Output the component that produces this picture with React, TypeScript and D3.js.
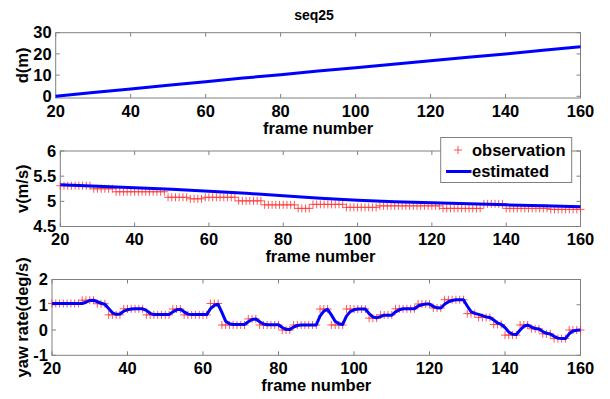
import * as d3 from "d3";
import { useEffect, useRef } from "react";

// frames shown on every panel
const frames = d3.range(20, 161);
const xTicks = [20, 40, 60, 80, 100, 120, 140, 160];

// d(m), read every 10 frames
const distFrames = [20, 30, 40, 50, 60, 70, 80, 90, 100, 110, 120, 130, 140, 150, 160];
const distValues = [0, 1.75, 3.5, 5.2, 6.9, 8.6, 10.2, 11.9, 13.5, 15.1, 16.8, 18.4, 20.0, 21.7, 23.4];
const distTicks = [0, 10, 20, 30];

// v(m/s)
const speedEst = [5.33, 5.3, 5.27, 5.24, 5.2, 5.16, 5.11, 5.06, 5.02, 4.99, 4.97, 4.95, 4.93, 4.91, 4.89];
const speedObs = [
  5.31, 5.31, 5.31, 5.31, 5.31, 5.31, 5.31, 5.31, 5.31, 5.25,
  5.25, 5.25, 5.25, 5.25, 5.25, 5.19, 5.19, 5.19, 5.19, 5.19,
  5.19, 5.19, 5.19, 5.19, 5.19, 5.19, 5.19, 5.19, 5.19, 5.08,
  5.08, 5.08, 5.08, 5.08, 5.08, 5.05, 5.05, 5.05, 5.05, 5.08,
  5.08, 5.08, 5.08, 5.08, 5.08, 5.08, 5.08, 5.08, 5.01, 5.01,
  5.01, 5.01, 5.01, 5.01, 5.01, 4.93, 4.93, 4.93, 4.93, 4.93,
  4.93, 4.93, 4.93, 4.93, 4.86, 4.86, 4.86, 4.86, 4.94, 4.94,
  4.94, 4.94, 4.94, 4.94, 4.94, 4.94, 4.94, 4.88, 4.88, 4.88,
  4.88, 4.88, 4.88, 4.88, 4.88, 4.88, 4.91, 4.91, 4.91, 4.91,
  4.91, 4.91, 4.91, 4.91, 4.91, 4.91, 4.91, 4.91, 4.91, 4.91,
  4.91, 4.91, 4.91, 4.86, 4.86, 4.86, 4.86, 4.86, 4.86, 4.86,
  4.86, 4.86, 4.86, 4.86, 4.95, 4.95, 4.95, 4.95, 4.95, 4.95,
  4.86, 4.86, 4.86, 4.86, 4.86, 4.86, 4.86, 4.86, 4.86, 4.86,
  4.86, 4.86, 4.84, 4.84, 4.84, 4.84, 4.84, 4.84, 4.84, 4.84,
  4.84,
];
const speedTicks = [4.5, 5, 5.5, 6];

// yaw rate(deg/s)
const yawObs = [
  1.05, 1.05, 1.05, 1.05, 1.05, 1.05, 1.05, 1.05, 1.18, 1.18,
  1.18, 1.18, 1.04, 1.04, 1.04, 0.6, 0.6, 0.6, 0.6, 0.84,
  0.84, 0.84, 0.84, 0.84, 0.84, 0.6, 0.6, 0.6, 0.6, 0.6,
  0.6, 0.6, 0.83, 0.83, 0.83, 0.6, 0.6, 0.6, 0.6, 0.6,
  0.6, 0.6, 1.05, 1.05, 1.05, 0.2, 0.2, 0.2, 0.2, 0.2,
  0.2, 0.2, 0.44, 0.44, 0.44, 0.2, 0.2, 0.2, 0.2, 0.2,
  0.2, 0.0, 0.0, 0.0, 0.2, 0.2, 0.2, 0.2, 0.2, 0.2,
  0.2, 0.83, 0.83, 0.83, 0.2, 0.2, 0.2, 0.2, 0.83, 0.83,
  0.83, 0.83, 0.83, 0.83, 0.47, 0.47, 0.47, 0.6, 0.6, 0.6,
  0.6, 0.84, 0.84, 0.84, 0.84, 0.84, 0.84, 1.03, 1.03, 1.03,
  1.03, 0.87, 0.87, 0.87, 1.2, 1.2, 1.2, 1.2, 1.2, 1.2,
  0.65, 0.65, 0.65, 0.5, 0.5, 0.5, 0.5, 0.22, 0.22, 0.22,
  -0.2, -0.2, -0.2, -0.2, 0.2, 0.2, 0.2, 0.05, 0.05, 0.05,
  -0.15, -0.15, -0.15, -0.34, -0.34, -0.34, -0.34, 0.0, 0.0, 0.0,
  0.0,
];
const yawEst = [
  1.05, 1.05, 1.05, 1.05, 1.05, 1.05, 1.05, 1.05, 1.05, 1.1,
  1.17, 1.18, 1.12, 1.06, 1.02, 0.85, 0.68, 0.62, 0.63, 0.75,
  0.8, 0.83, 0.84, 0.84, 0.84, 0.78, 0.66, 0.61, 0.61, 0.61,
  0.61, 0.61, 0.72, 0.8, 0.82, 0.72, 0.63, 0.61, 0.61, 0.61,
  0.61, 0.61, 0.85, 0.98, 1.02, 0.7, 0.35, 0.25, 0.22, 0.22,
  0.22, 0.22, 0.33, 0.42, 0.44, 0.33, 0.24, 0.21, 0.21, 0.21,
  0.21, 0.1, 0.03, 0.02, 0.12, 0.18, 0.2, 0.2, 0.2, 0.2,
  0.2, 0.55, 0.75, 0.82, 0.6, 0.35, 0.25, 0.22, 0.55, 0.73,
  0.8, 0.83, 0.83, 0.83, 0.65, 0.52, 0.48, 0.53, 0.59, 0.59,
  0.59, 0.72, 0.8, 0.84, 0.84, 0.84, 0.84, 0.95, 1.0, 1.03,
  1.03, 0.93, 0.88, 0.87, 1.02, 1.12, 1.17, 1.2, 1.2, 1.2,
  0.95, 0.73, 0.66, 0.62, 0.57, 0.52, 0.5, 0.4, 0.28, 0.22,
  0.1, -0.08, -0.17, -0.18, 0.0, 0.15, 0.2, 0.12, 0.06, 0.04,
  -0.06, -0.13, -0.16, -0.25, -0.32, -0.34, -0.34, -0.15, -0.04, -0.01,
  0.0,
];
const yawTicks = [-1, 0, 1, 2];

const FONT = "'Liberation Sans', Arial, sans-serif";
const BLUE = "#0000ff";
const RED = "#ff3838";
const AXIS = "#808080";

const App = () => {
  const ref = useRef(null);

  useEffect(() => {
    const svg = d3.select(ref.current);

    // one MATLAB-style subplot: box, inward ticks on all sides, labels
    const panel = (box, yDomain, yTicks, yLabel) => {
      const x = d3.scaleLinear().domain([20, 160]).range([box.left, box.right]);
      const y = d3.scaleLinear().domain(yDomain).range([box.bottom, box.top]);
      const g = svg.append("g");

      g.append("rect")
        .attr("x", box.left)
        .attr("y", box.top)
        .attr("width", box.right - box.left)
        .attr("height", box.bottom - box.top)
        .attr("fill", "#fff")
        .attr("stroke", AXIS);

      const tl = 4;
      xTicks.forEach((t) => {
        g.append("line").attr("x1", x(t)).attr("x2", x(t)).attr("y1", box.bottom).attr("y2", box.bottom - tl).attr("stroke", AXIS);
        g.append("line").attr("x1", x(t)).attr("x2", x(t)).attr("y1", box.top).attr("y2", box.top + tl).attr("stroke", AXIS);
        g.append("text")
          .attr("x", x(t))
          .attr("y", box.bottom + 13)
          .attr("dy", "0.35em")
          .attr("text-anchor", "middle")
          .text(t);
      });
      yTicks.forEach((t) => {
        g.append("line").attr("x1", box.left).attr("x2", box.left + tl).attr("y1", y(t)).attr("y2", y(t)).attr("stroke", AXIS);
        g.append("line").attr("x1", box.right).attr("x2", box.right - tl).attr("y1", y(t)).attr("y2", y(t)).attr("stroke", AXIS);
        g.append("text")
          .attr("x", box.left - 4)
          .attr("y", y(t))
          .attr("dy", "0.35em")
          .attr("text-anchor", "end")
          .text(t);
      });

      g.append("text")
        .attr("x", (box.left + box.right) / 2)
        .attr("y", box.bottom + 30)
        .attr("dy", "0.35em")
        .attr("text-anchor", "middle")
        .text("frame number");

      g.append("text")
        .attr("transform", `translate(22, ${(box.top + box.bottom) / 2}) rotate(-90)`)
        .attr("dy", "0.35em")
        .attr("text-anchor", "middle")
        .text(yLabel);

      return { g, x, y };
    };

    svg.style("font-family", FONT).style("font-weight", "bold").style("font-size", "16.5px");

    svg.append("text")
      .attr("x", 314)
      .attr("y", 15)
      .attr("dy", "0.35em")
      .attr("text-anchor", "middle")
      .style("font-size", "14px")
      .text("seq25");

    const lineOf = (x, y) => d3.line().x((d) => x(d[0])).y((d) => y(d[1]));

    const cross = (g, cx, cy, r) => {
      g.append("path")
        .attr("d", `M${cx - r},${cy}H${cx + r}M${cx},${cy - r}V${cy + r}`)
        .attr("stroke", RED)
        .attr("stroke-opacity", 0.85)
        .attr("stroke-width", 1)
        .attr("fill", "none");
    };

    // panel 1: distance
    const p1 = panel({ left: 55.7, right: 580.5, top: 32.7, bottom: 98 }, [-0.8, 30], distTicks, "d(m)");
    p1.g.append("path")
      .datum(d3.zip(distFrames, distValues))
      .attr("d", lineOf(p1.x, p1.y))
      .attr("fill", "none")
      .attr("stroke", BLUE)
      .attr("stroke-width", 3);

    // panel 2: speed
    const p2 = panel({ left: 60.3, right: 580.5, top: 151, bottom: 226.5 }, [4.5, 6], speedTicks, "v(m/s)");
    frames.forEach((f, i) => cross(p2.g, p2.x(f), p2.y(speedObs[i]), 4));
    p2.g.append("path")
      .datum(d3.zip(distFrames, speedEst))
      .attr("d", lineOf(p2.x, p2.y))
      .attr("fill", "none")
      .attr("stroke", BLUE)
      .attr("stroke-width", 3);

    // legend
    const lg = p2.g.append("g");
    lg.append("rect")
      .attr("x", 440.7)
      .attr("y", 137.5)
      .attr("width", 131)
      .attr("height", 45)
      .attr("fill", "#fff")
      .attr("stroke", AXIS);
    cross(lg, 458, 150, 4);
    lg.append("text").attr("x", 472).attr("y", 150).attr("dy", "0.35em").text("observation");
    lg.append("line")
      .attr("x1", 446)
      .attr("x2", 471.5)
      .attr("y1", 171.5)
      .attr("y2", 171.5)
      .attr("stroke", BLUE)
      .attr("stroke-width", 3);
    lg.append("text").attr("x", 472).attr("y", 171.5).attr("dy", "0.35em").text("estimated");

    // panel 3: yaw rate
    const p3 = panel({ left: 52, right: 580.5, top: 279.5, bottom: 355.3 }, [-1, 2], yawTicks, "yaw rate(deg/s)");
    frames.forEach((f, i) => cross(p3.g, p3.x(f), p3.y(yawObs[i]), 4));
    p3.g.append("path")
      .datum(d3.zip(frames, yawEst))
      .attr("d", lineOf(p3.x, p3.y))
      .attr("fill", "none")
      .attr("stroke", BLUE)
      .attr("stroke-width", 3)
      .attr("stroke-linejoin", "round");

    return () => svg.selectAll("*").remove();
  }, []);

  return (
    <svg
      ref={ref}
      width={610}
      height={399}
      style={{ position: "absolute", left: 0, top: 0, background: "#fff" }}
    />
  );
};

export default App;
